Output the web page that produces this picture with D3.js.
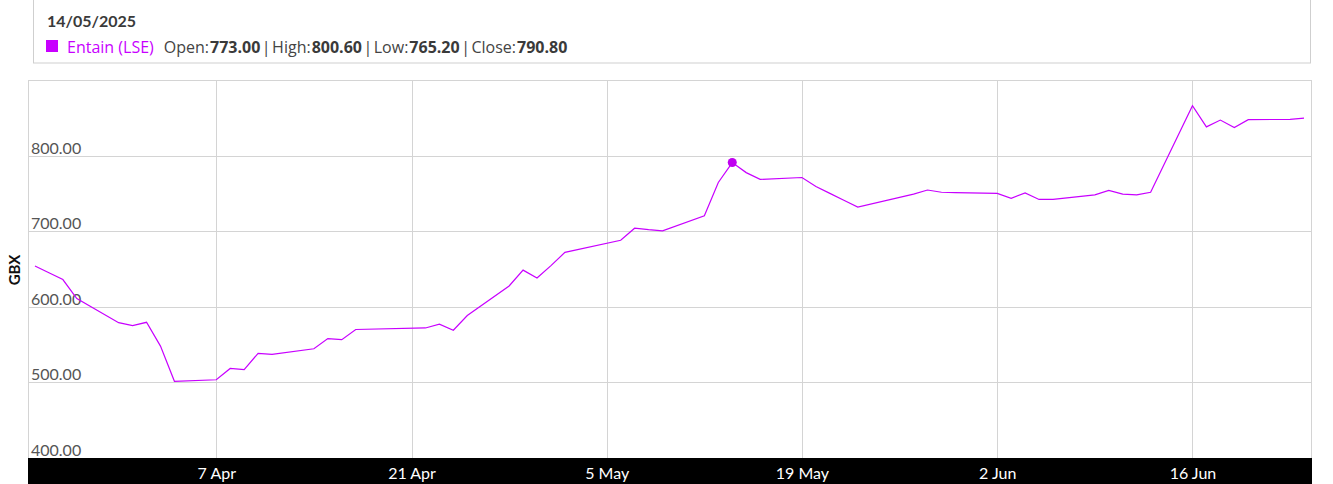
<!DOCTYPE html>
<html>
<head>
<meta charset="utf-8">
<script src="https://cdn.jsdelivr.net/npm/d3@7"></script>
<style>
  html, body { margin: 0; padding: 0; background: #fff; overflow: hidden; }
  svg { display: block; font-family: Lato, "Open Sans", sans-serif; }
</style>
</head>
<body>
<svg id="chart" width="1333" height="484"></svg>
<script>
// ---- data ----
const dates = [
  "2025-03-25","2025-03-26","2025-03-27","2025-03-28","2025-03-31",
  "2025-04-01","2025-04-02","2025-04-03","2025-04-04","2025-04-07",
  "2025-04-08","2025-04-09","2025-04-10","2025-04-11","2025-04-14",
  "2025-04-15","2025-04-16","2025-04-17","2025-04-22","2025-04-23",
  "2025-04-24","2025-04-25","2025-04-28","2025-04-29","2025-04-30",
  "2025-05-01","2025-05-02","2025-05-06","2025-05-07","2025-05-08",
  "2025-05-09","2025-05-12","2025-05-13","2025-05-14","2025-05-15",
  "2025-05-16","2025-05-19","2025-05-20","2025-05-21","2025-05-22",
  "2025-05-23","2025-05-27","2025-05-28","2025-05-29","2025-05-30",
  "2025-06-02","2025-06-03","2025-06-04","2025-06-05","2025-06-06",
  "2025-06-09","2025-06-10","2025-06-11","2025-06-12","2025-06-13",
  "2025-06-16","2025-06-17","2025-06-18","2025-06-19","2025-06-20",
  "2025-06-23","2025-06-24"
];
const closes = [
  654, 645, 636, 611, 579,
  575, 579.5, 548, 501.5, 503.5,
  518.5, 517, 538.5, 537, 544.5,
  558, 556.5, 570, 572, 577,
  569, 588.5, 627.5, 648.5, 638,
  654.5, 672, 688, 704, 702,
  700.5, 720.5, 764.5, 790.8, 777.5,
  768.5, 771, 759, 750, 741,
  732, 749, 754.5, 751.5, 751,
  750, 743.5, 750.5, 742, 742,
  748, 754, 749, 748, 751.5,
  866, 838, 847, 837, 847.5,
  848, 849.5
];
const xTickDates = ["2025-04-07","2025-04-21","2025-05-05","2025-05-19","2025-06-02","2025-06-16"];
const xTickLabels = ["7 Apr","21 Apr","5 May","19 May","2 Jun","16 Jun"];
const yTicks = [400, 500, 600, 700, 800];
const yDomain = [400, 900];
const xDomain = ["2025-03-24T12:00:00Z", "2025-06-24T12:00:00Z"];
const seriesName = "Entain (LSE)";
const hoverDate = "2025-05-14";
const hoverOHLC = [["Open", "773.00"], ["High", "800.60"], ["Low", "765.20"], ["Close", "790.80"]];
const hoverLabel = "14/05/2025";
const yAxisTitle = "GBX";

// ---- layout ----
const parse = s => new Date(s.length > 10 ? s : s + "T00:00:00Z");
const pLeft = 28, pRight = 1311, pTop = 80, pBottom = 458;
const purple = "#c800ff";

const svg = d3.select("#chart");
const x = d3.scaleUtc().domain(xDomain.map(parse)).range([pLeft, pRight]);
const y = d3.scaleLinear().domain(yDomain).range([pBottom, pTop]);

const data = dates.map((d, i) => ({ date: parse(d), v: closes[i] }));

// legend box
svg.append("rect")
  .attr("x", 33.5).attr("y", -5).attr("width", 1277).attr("height", 68)
  .attr("fill", "#fff").attr("stroke", "#cfcfcf").attr("stroke-width", 1);
svg.append("text")
  .attr("x", 47).attr("y", 27)
  .attr("font-size", 16).attr("font-weight", "bold").attr("fill", "#3a3a3a")
  .text(hoverLabel);
svg.append("rect")
  .attr("x", 46).attr("y", 40).attr("width", 12).attr("height", 12)
  .attr("fill", purple);
const lt = svg.append("text").attr("x", 67).attr("y", 53)
  .attr("font-family", "'Open Sans', sans-serif")
  .attr("font-size", 16).attr("fill", "#444");
lt.append("tspan").attr("fill", purple).text(seriesName);
hoverOHLC.forEach((kv, i) => {
  if (i > 0) lt.append("tspan").attr("dx", 1.5).text("|");
  lt.append("tspan").attr("dx", i === 0 ? 10 : 1.5).text(kv[0] + ":");
  lt.append("tspan").attr("dx", 1).attr("font-weight", "bold").attr("fill", "#3a3a3a").text(kv[1]);
});

// grid
const grid = svg.append("g");
grid.selectAll("line.h").data(yTicks.concat([yDomain[1]])).enter().append("line")
  .attr("x1", pLeft).attr("x2", pRight + 1)
  .attr("y1", d => Math.round(y(d)) + 0.5).attr("y2", d => Math.round(y(d)) + 0.5)
  .attr("stroke", "#d4d4d4").attr("stroke-width", 1);
grid.selectAll("line.v").data(xTickDates.map(parse)).enter().append("line")
  .attr("x1", d => Math.round(x(d)) + 0.5).attr("x2", d => Math.round(x(d)) + 0.5)
  .attr("y1", pTop).attr("y2", pBottom)
  .attr("stroke", "#d4d4d4").attr("stroke-width", 1);
grid.append("line").attr("x1", pLeft + 0.5).attr("x2", pLeft + 0.5).attr("y1", pTop).attr("y2", pBottom)
  .attr("stroke", "#d4d4d4");
grid.append("line").attr("x1", pRight + 0.5).attr("x2", pRight + 0.5).attr("y1", pTop).attr("y2", pBottom)
  .attr("stroke", "#d4d4d4");

// y labels
svg.append("g").selectAll("text").data(yTicks).enter().append("text")
  .attr("x", 31).attr("y", d => y(d) - 2)
  .attr("font-size", 16).attr("fill", "#555")
  .text(d => d3.format(".2f")(d));

// y title
svg.append("text")
  .attr("transform", "translate(20," + 270 + ") rotate(-90)")
  .attr("text-anchor", "middle")
  .attr("font-size", 15).attr("font-weight", "bold").attr("fill", "#111")
  .text(yAxisTitle);

// line
const line = d3.line().x(d => x(d.date)).y(d => y(d.v));
svg.append("path").datum(data)
  .attr("d", line).attr("fill", "none")
  .attr("stroke", purple).attr("stroke-width", 1.2);

// hover point
const hp = data.find(d => +d.date === +parse(hoverDate));
svg.append("circle").attr("cx", x(hp.date)).attr("cy", y(hp.v)).attr("r", 4.5)
  .attr("fill", "#c000f0");

// x axis band
svg.append("rect").attr("x", pLeft).attr("y", pBottom).attr("width", pRight - pLeft + 1).attr("height", 30)
  .attr("fill", "#000");
const xAxis = d3.axisBottom(x).tickValues(xTickDates.map(parse))
  .tickFormat((d, i) => xTickLabels[i]).tickSize(0);
const gx = svg.append("g").attr("transform", "translate(0," + pBottom + ")").call(xAxis);
gx.select(".domain").remove();
gx.selectAll("text").attr("fill", "#fff").attr("font-size", 16)
  .attr("font-family", "Lato, sans-serif").attr("dy", "0").attr("y", 21);
</script>
</body>
</html>
